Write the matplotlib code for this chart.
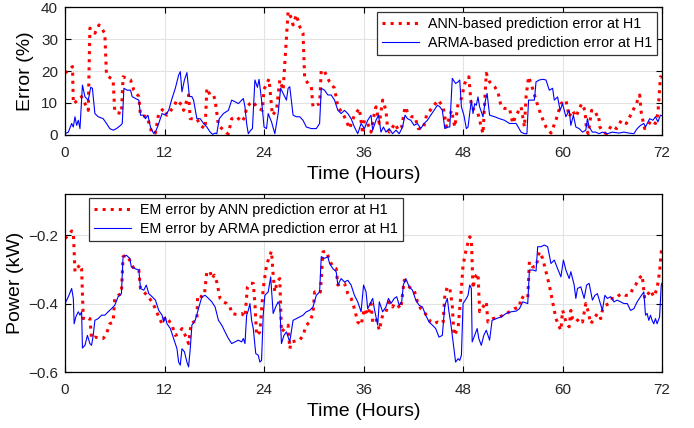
import numpy as np
import matplotlib.pyplot as plt

# top panel: prediction error (%)
ann_err_t = [0, 0.9, 1.0, 1.8, 2.0, 2.8, 3.0, 3.6, 4.1, 4.8, 5.0, 5.8, 6.0, 6.8, 7.0, 7.9, 8.3, 8.9, 9.1, 9.9,
             10.5, 10.9, 11.3, 11.9, 12.3, 13.1, 13.5, 14.1, 14.3, 14.9, 15.1, 15.9, 16.3, 16.9, 17.1, 17.5, 17.9, 18.1, 18.5, 19.5,
             19.7, 20.1, 20.7, 21.3, 21.7, 21.9, 22.3, 22.7, 23.1, 23.8, 24.0, 24.6, 25.0, 25.5, 25.9, 26.3, 26.9, 27.3, 27.5, 27.9,
             28.3, 28.7, 28.9, 29.3, 29.7, 29.9, 30.7, 30.9, 31.3, 31.9, 32.5, 32.9, 33.5, 33.9, 34.3, 34.9, 35.5, 35.9, 36.1, 36.5,
             36.9, 37.3, 37.5, 37.9, 38.3, 38.7, 38.9, 39.1, 39.8, 40.2, 40.6, 41.0, 41.4, 41.8, 42.2, 42.6, 43.2, 43.6, 44.2, 45.0,
             45.6, 46.0, 46.6, 47.0, 47.4, 47.8, 48.2, 48.7, 49.0, 49.4, 49.8, 50.4, 50.8, 51.2, 51.8, 52.2, 52.6, 53.0, 53.6, 54.0,
             54.4, 55.0, 55.4, 55.6, 55.9, 56.2, 56.8, 57.4, 58.0, 58.6, 59.2, 59.8, 60.4, 60.8, 61.2, 61.6, 62.3, 62.7, 62.9, 63.1,
             63.5, 63.9, 64.3, 64.5, 64.9, 65.3, 65.9, 66.5, 67.1, 67.7, 68.3, 68.9, 69.3, 69.5, 69.9, 70.3, 70.7, 71.2, 71.5, 71.8, 72]
ann_err = [19.3, 21.4, 9.8, 11.4, 12.0, 7.7, 33.4, 31.8, 34.4, 31.8, 18.7, 17.2, 7.2, 6.7, 18.2, 17.2, 14.0, 12.0, 6.2, 5.7,
           0.4, 0.6, 6.7, 8.3, 6.2, 8.8, 10.9, 9.3, 7.7, 12.5, 5.1, 5.1, 3.0, 2.0, 14.6, 12.5, 12.5, 10.9, 3.0, 0.6,
           0.4, 5.1, 5.7, 4.1, 5.7, 8.8, 9.8, 10.4, 8.8, 7.7, 14.3, 17.5, 6.2, 7.7, 17.2, 14.0, 38.6, 36.5, 34.4, 37.6,
           33.9, 31.8, 17.7, 16.1, 15.1, 8.8, 9.8, 20.3, 19.8, 16.6, 14.6, 8.8, 6.7, 4.6, 2.0, 6.2, 8.3, 0.4, 4.6, 3.6,
           0.9, 6.7, 8.8, 3.6, 10.9, 7.7, 2.0, 0.9, 3.6, 1.5, 2.5, 8.8, 6.7, 5.7, 5.7, 2.0, 2.0, 6.2, 8.3, 10.9,
           8.8, 2.5, 7.7, 2.5, 9.8, 11.4, 16.1, 18.2, 8.8, 7.7, 6.7, 0.4, 19.3, 16.6, 15.1, 13.5, 8.8, 8.3, 8.3, 3.6,
           6.2, 8.8, 2.5, 12.0, 18.2, 16.1, 10.9, 6.2, 2.5, 0.6, 4.6, 9.8, 10.9, 5.7, 7.7, 5.7, 9.8, 7.7, 1.5, 0.4,
           7.7, 6.2, 6.7, 2.5, 0.9, 0.4, 3.0, 2.0, 4.6, 3.6, 6.7, 9.8, 12.5, 6.7, 2.0, 3.0, 4.6, 3.6, 6.7, 18.2, 18.0]

arma_err_t = [0, 0.4, 0.8, 1.0, 1.2, 1.4, 1.6, 1.8, 2.1, 2.4, 2.6, 2.8, 3.1, 3.3, 3.6, 4.0, 4.6, 5.0, 5.4, 5.8,
              6.2, 6.7, 6.9, 7.1, 7.5, 7.9, 8.1, 8.5, 8.9, 9.1, 9.4, 9.7, 10.0, 10.3, 10.7, 11.0, 11.3, 11.7, 12.1, 12.5,
              12.9, 13.3, 13.7, 13.9, 14.1, 14.4, 14.7, 15.0, 15.3, 15.5, 15.9, 16.3, 16.7, 17.1, 17.5, 17.8, 18.1, 18.3, 18.6, 19.1,
              19.7, 20.1, 20.5, 20.9, 21.3, 21.5, 21.7, 21.9, 22.1, 22.4, 22.6, 22.9, 23.2, 23.4, 23.7, 24.0, 24.3, 24.5, 24.9, 25.3,
              25.7, 26.0, 26.4, 26.7, 26.9, 27.1, 27.5, 27.9, 28.3, 28.7, 29.1, 29.7, 30.3, 30.7, 30.9, 31.3, 31.7, 32.1, 32.5, 32.9,
              33.3, 33.7, 34.1, 34.5, 34.9, 35.3, 35.7, 36.1, 36.5, 36.9, 37.1, 37.5, 37.8, 38.1, 38.4, 38.7, 39.1, 39.5, 39.9, 40.3,
              40.7, 41.0, 41.3, 41.7, 42.1, 42.5, 42.9, 43.3, 43.7, 44.1, 44.5, 44.9, 45.2, 45.5, 45.8, 46.1, 46.4, 46.7, 47.1, 47.4,
              47.6, 47.8, 48.1, 48.4, 48.6, 49.0, 49.2, 49.4, 49.6, 49.8, 50.0, 50.4, 50.7, 50.9, 51.2, 51.8, 52.4, 53.0, 53.6, 54.4,
              55.0, 55.4, 55.7, 55.9, 56.2, 56.6, 56.8, 57.2, 57.6, 58.0, 58.4, 58.8, 59.0, 59.4, 59.7, 60.0, 60.4, 60.8, 61.0, 61.3,
              61.6, 62.0, 62.4, 62.8, 63.0, 63.2, 63.6, 64.0, 64.4, 64.8, 65.4, 66.0, 66.8, 67.4, 68.0, 68.6, 69.0, 69.4, 69.8, 70.0,
              70.5, 70.9, 71.2, 71.5, 71.8, 72]
arma_err = [0.4, 0.9, 3.6, 2.5, 5.7, 3.0, 4.6, 2.0, 15.6, 12.0, 11.4, 10.9, 14.9, 14.6, 6.7, 5.7, 5.1, 3.6, 2.0, 1.5,
            2.0, 3.0, 3.6, 14.6, 14.0, 14.0, 12.0, 11.4, 10.9, 6.2, 6.2, 5.1, 6.2, 2.5, 0.4, 1.5, 3.6, 6.7, 6.2, 7.7,
            11.4, 14.6, 18.7, 19.8, 13.5, 17.2, 19.5, 12.0, 12.0, 10.9, 5.1, 5.1, 3.6, 2.5, 0.9, 0.2, 0.6, 0.4, 5.1, 6.7,
            7.7, 10.9, 10.4, 9.8, 10.9, 11.4, 8.8, 3.6, 0.4, 1.5, 2.0, 17.2, 14.9, 17.4, 10.9, 2.5, 2.0, 6.7, 4.1, 0.4,
            6.7, 14.6, 12.5, 10.9, 14.6, 15.1, 6.2, 5.7, 5.7, 4.6, 2.5, 2.0, 2.0, 3.6, 14.6, 14.0, 12.5, 12.5, 10.9, 7.7,
            6.7, 7.7, 6.7, 5.1, 2.5, 0.4, 3.6, 2.0, 4.6, 6.2, 1.5, 4.6, 6.2, 0.9, 2.5, 0.9, 2.0, 0.4, 1.5, 0.4,
            2.5, 6.2, 5.1, 4.6, 3.0, 3.6, 2.0, 3.6, 4.6, 6.2, 7.7, 9.3, 8.8, 7.7, 2.0, 2.5, 2.5, 17.7, 16.1, 16.6,
            17.2, 8.8, 6.2, 2.0, 2.5, 10.9, 6.7, 9.8, 9.3, 11.9, 8.8, 5.7, 10.9, 13.0, 6.2, 5.7, 5.1, 4.6, 3.6, 3.6,
            0.9, 0.4, 0.4, 10.9, 10.9, 10.9, 16.6, 17.2, 17.4, 17.2, 14.0, 14.6, 10.9, 11.9, 7.7, 9.8, 5.7, 7.7, 3.0, 6.2,
            2.5, 2.0, 0.9, 1.5, 5.1, 2.5, 0.9, 0.9, 0.4, 0.9, 0.4, 0.9, 0.6, 0.9, 0.6, 0.4, 2.0, 3.0, 3.6, 2.5,
            5.1, 4.6, 5.7, 4.1, 6.2, 6.0]

# bottom panel: EM error (kW)
ann_pw_t = [0, 0.4, 0.8, 1.0, 1.2, 1.6, 1.8, 2.0, 2.2, 2.6, 3.0, 3.2, 3.6, 4.0, 4.6, 5.0, 5.4, 5.8, 6.0, 6.4,
            6.8, 7.0, 7.4, 7.8, 8.3, 8.9, 9.1, 9.5, 9.9, 10.5, 10.9, 11.3, 11.7, 12.1, 12.5, 12.9, 13.3, 13.7, 14.1, 14.5,
            14.9, 15.2, 15.5, 15.9, 16.0, 16.5, 16.8, 17.1, 17.5, 17.7, 18.0, 18.3, 18.7, 19.1, 19.5, 19.9, 20.1, 20.7, 21.3, 21.7,
            22.0, 22.3, 22.7, 22.9, 23.1, 23.5, 23.9, 24.3, 24.7, 24.9, 25.1, 25.3, 25.5, 25.7, 25.9, 26.1, 26.5, 26.9, 27.1, 27.3,
            27.7, 28.3, 28.7, 29.1, 29.5, 29.9, 30.1, 30.5, 30.8, 31.1, 31.5, 31.9, 32.3, 32.7, 32.9, 33.3, 33.7, 34.1, 34.5, 34.9,
            35.3, 35.7, 36.1, 36.5, 36.9, 37.1, 37.5, 37.9, 38.3, 38.7, 39.1, 39.5, 39.7, 40.1, 40.5, 40.9, 41.3, 41.7, 42.1, 42.5,
            42.9, 43.3, 43.7, 44.1, 44.5, 44.9, 45.3, 45.6, 45.8, 46.1, 46.4, 46.7, 46.9, 47.4, 47.8, 48.0, 48.4, 48.8, 49.0, 49.2,
            49.4, 49.6, 49.8, 50.0, 50.4, 50.8, 51.0, 51.6, 52.4, 53.0, 53.6, 54.2, 54.8, 55.0, 55.4, 55.8, 56.0, 56.4, 56.8, 57.2,
            57.6, 58.0, 58.4, 58.8, 59.2, 59.6, 59.8, 60.0, 60.2, 60.4, 60.8, 61.0, 61.2, 61.6, 62.0, 62.4, 62.8, 63.0, 63.4, 63.8,
            64.2, 64.6, 64.8, 65.2, 65.6, 66.0, 66.4, 66.8, 67.2, 67.6, 68.0, 68.4, 68.8, 69.2, 69.6, 69.9, 70.2, 70.6, 71.0, 71.4,
            71.7, 71.9, 72]
ann_pw = [-0.210, -0.200, -0.188, -0.190, -0.307, -0.293, -0.286, -0.298, -0.444, -0.439, -0.444, -0.502, -0.498, -0.500, -0.502, -0.488, -0.459, -0.454, -0.385, -0.376,
          -0.371, -0.263, -0.259, -0.273, -0.298, -0.302, -0.356, -0.366, -0.376, -0.395, -0.415, -0.439, -0.459, -0.439, -0.449, -0.463, -0.493, -0.488, -0.473, -0.493,
          -0.517, -0.459, -0.454, -0.449, -0.376, -0.380, -0.376, -0.307, -0.307, -0.327, -0.317, -0.337, -0.385, -0.395, -0.400, -0.410, -0.429, -0.432, -0.429, -0.439,
          -0.351, -0.341, -0.341, -0.400, -0.493, -0.483, -0.356, -0.288, -0.259, -0.247, -0.317, -0.366, -0.346, -0.332, -0.327, -0.483, -0.473, -0.463, -0.532, -0.512,
          -0.510, -0.507, -0.493, -0.463, -0.454, -0.429, -0.366, -0.371, -0.366, -0.249, -0.247, -0.273, -0.293, -0.298, -0.346, -0.341, -0.341, -0.371, -0.385, -0.415,
          -0.454, -0.463, -0.415, -0.434, -0.400, -0.454, -0.444, -0.478, -0.434, -0.424, -0.395, -0.410, -0.400, -0.405, -0.415, -0.332, -0.346, -0.356, -0.361, -0.395,
          -0.415, -0.424, -0.439, -0.454, -0.459, -0.454, -0.459, -0.454, -0.376, -0.351, -0.356, -0.405, -0.493, -0.473, -0.356, -0.288, -0.239, -0.205, -0.210, -0.356,
          -0.327, -0.317, -0.312, -0.424, -0.410, -0.395, -0.454, -0.444, -0.439, -0.432, -0.424, -0.415, -0.410, -0.380, -0.385, -0.385, -0.278, -0.293, -0.293, -0.249,
          -0.268, -0.307, -0.346, -0.395, -0.444, -0.468, -0.478, -0.420, -0.434, -0.454, -0.468, -0.420, -0.444, -0.454, -0.444, -0.454, -0.400, -0.415, -0.459, -0.444,
          -0.429, -0.444, -0.420, -0.405, -0.400, -0.385, -0.385, -0.376, -0.371, -0.376, -0.376, -0.361, -0.346, -0.327, -0.317, -0.385, -0.376, -0.361, -0.380, -0.356,
          -0.307, -0.249, -0.245]

arma_pw_t = [0, 0.4, 0.8, 1.0, 1.1, 1.3, 1.6, 1.8, 2.0, 2.1, 2.4, 2.7, 3.0, 3.2, 3.4, 3.6, 4.0, 4.4, 4.8, 5.2,
             5.6, 6.0, 6.4, 6.8, 7.0, 7.4, 7.8, 8.0, 8.4, 8.9, 9.1, 9.5, 9.8, 10.1, 10.5, 10.9, 11.3, 11.7, 11.9, 12.1,
             12.3, 12.7, 13.1, 13.5, 13.7, 13.9, 14.1, 14.4, 14.7, 14.9, 15.1, 15.3, 15.7, 16.1, 16.5, 16.9, 17.3, 17.7, 18.1, 18.5,
             18.9, 19.3, 19.7, 20.1, 20.5, 20.9, 21.3, 21.5, 21.7, 21.9, 22.1, 22.3, 22.5, 22.7, 23.0, 23.3, 23.5, 23.7, 23.9, 24.1,
             24.5, 24.8, 25.1, 25.4, 25.7, 25.9, 26.1, 26.4, 26.7, 26.9, 27.1, 27.5, 27.9, 28.3, 28.7, 29.1, 29.5, 29.9, 30.3, 30.7,
             30.9, 31.3, 31.7, 31.9, 32.3, 32.7, 32.9, 33.3, 33.7, 34.1, 34.5, 34.9, 35.3, 35.7, 36.0, 36.3, 36.5, 36.8, 37.1, 37.3,
             37.7, 37.9, 38.3, 38.7, 39.0, 39.3, 39.7, 40.0, 40.3, 40.6, 40.8, 41.1, 41.5, 41.9, 42.3, 42.7, 43.1, 43.5, 43.9, 44.3,
             44.7, 45.1, 45.5, 45.8, 46.1, 46.3, 46.5, 46.9, 47.1, 47.4, 47.6, 47.8, 48.0, 48.4, 48.6, 48.8, 49.0, 49.1, 49.4, 49.7,
             49.9, 50.2, 50.5, 50.8, 51.2, 51.5, 52.0, 52.6, 53.2, 53.8, 54.4, 54.8, 55.2, 55.8, 56.0, 56.4, 56.8, 57.0, 57.4, 57.8,
             58.2, 58.6, 59.0, 59.4, 59.8, 60.1, 60.4, 60.8, 61.0, 61.4, 61.6, 61.8, 62.2, 62.6, 62.9, 63.2, 63.6, 63.9, 64.2, 64.5,
             64.8, 65.1, 65.4, 65.8, 66.2, 66.6, 67.0, 67.4, 67.8, 68.2, 68.6, 69.0, 69.4, 69.8, 70.0, 70.2, 70.4, 70.6, 70.8, 71.0,
             71.2, 71.4, 71.7, 71.9, 72]
arma_pw = [-0.400, -0.380, -0.356, -0.385, -0.459, -0.439, -0.424, -0.434, -0.424, -0.530, -0.522, -0.493, -0.517, -0.522, -0.493, -0.449, -0.444, -0.434, -0.434, -0.424,
           -0.415, -0.405, -0.380, -0.371, -0.263, -0.259, -0.268, -0.293, -0.298, -0.302, -0.356, -0.361, -0.346, -0.371, -0.380, -0.390, -0.420, -0.434, -0.454, -0.439,
           -0.459, -0.473, -0.502, -0.532, -0.571, -0.580, -0.532, -0.541, -0.571, -0.585, -0.532, -0.463, -0.449, -0.415, -0.380, -0.376, -0.385, -0.395, -0.410, -0.449,
           -0.463, -0.483, -0.502, -0.517, -0.512, -0.507, -0.512, -0.502, -0.517, -0.434, -0.420, -0.400, -0.449, -0.473, -0.546, -0.551, -0.571, -0.566, -0.434, -0.376,
           -0.366, -0.322, -0.429, -0.410, -0.395, -0.405, -0.517, -0.493, -0.483, -0.498, -0.512, -0.449, -0.444, -0.439, -0.434, -0.424, -0.420, -0.410, -0.376, -0.366,
           -0.263, -0.268, -0.263, -0.283, -0.298, -0.307, -0.346, -0.327, -0.337, -0.332, -0.346, -0.376, -0.395, -0.424, -0.346, -0.366, -0.415, -0.400, -0.385, -0.415,
           -0.463, -0.395, -0.424, -0.410, -0.385, -0.400, -0.385, -0.380, -0.405, -0.395, -0.346, -0.327, -0.351, -0.361, -0.390, -0.405, -0.410, -0.434, -0.454, -0.463,
           -0.473, -0.498, -0.493, -0.405, -0.385, -0.424, -0.454, -0.532, -0.571, -0.561, -0.566, -0.551, -0.400, -0.385, -0.376, -0.346, -0.356, -0.512, -0.493, -0.473,
           -0.502, -0.522, -0.493, -0.478, -0.507, -0.449, -0.444, -0.439, -0.429, -0.424, -0.422, -0.415, -0.395, -0.400, -0.302, -0.302, -0.305, -0.234, -0.234, -0.229,
           -0.234, -0.283, -0.273, -0.298, -0.322, -0.273, -0.302, -0.327, -0.307, -0.346, -0.385, -0.356, -0.351, -0.385, -0.346, -0.341, -0.390, -0.376, -0.371, -0.395,
           -0.420, -0.376, -0.385, -0.380, -0.395, -0.390, -0.395, -0.400, -0.400, -0.420, -0.415, -0.395, -0.380, -0.366, -0.434, -0.429, -0.449, -0.434, -0.449, -0.459,
           -0.444, -0.459, -0.439, -0.346, -0.340]

hour_ticks = [0, 12, 24, 36, 48, 60, 72]

plt.rcParams['font.family'] = ['Liberation Sans', 'DejaVu Sans']
fig = plt.figure(figsize=(6.94, 4.28), dpi=100)
ax1 = fig.add_axes([0.0937, 0.6846, 0.8603, 0.299])
ax2 = fig.add_axes([0.0937, 0.1308, 0.8603, 0.4159])

ax1.plot(ann_err_t, ann_err, color='red', ls=':', lw=2.2, label='ANN-based prediction error at H1')
ax1.plot(arma_err_t, arma_err, color='blue', lw=0.8, label='ARMA-based prediction error at H1')
ax1.set_ylim(0, 40)
ax1.set_yticks([0, 10, 20, 30, 40])
ax1.set_ylabel('Error (%)', fontsize=14, labelpad=5)

ax2.plot(ann_pw_t, ann_pw, color='red', ls=':', lw=2.2, label='EM error by ANN prediction error at H1')
ax2.plot(arma_pw_t, arma_pw, color='blue', lw=0.8, label='EM error by ARMA prediction error at H1')
ax2.set_ylim(-0.6, -0.08)
ax2.set_yticks([-0.6, -0.4, -0.2])
ax2.set_ylabel('Power (kW)', fontsize=14, labelpad=3)

for ax in (ax1, ax2):
    ax.set_xlim(0, 72)
    ax.set_xticks(hour_ticks)
    ax.set_xlabel('Time (Hours)', fontsize=14, labelpad=4)
    ax.grid(True, color='#e3e3e3', lw=0.8)
    ax.set_axisbelow(True)
    ax.tick_params(direction='in', top=True, right=True, labelsize=11, length=4,
                   labelcolor='#262626')
    ax.tick_params(axis='x', pad=8)
    ax.tick_params(axis='y', pad=5)
    for s in ax.spines.values():
        s.set_linewidth(0.9)

leg1 = ax1.legend(loc='upper right', bbox_to_anchor=(0.992, 0.962), borderaxespad=0, fontsize=10.3,
                  fancybox=False, edgecolor='#333333', framealpha=1, handlelength=2.6,
                  borderpad=0.35, labelspacing=0.35, handletextpad=0.6)
leg2 = ax2.legend(loc='upper left', bbox_to_anchor=(0.04, 0.978), borderaxespad=0, fontsize=10.3,
                  fancybox=False, edgecolor='#333333', framealpha=1, handlelength=2.6,
                  borderpad=0.35, labelspacing=0.35, handletextpad=0.6)
for leg in (leg1, leg2):
    leg.get_frame().set_linewidth(0.9)

fig.savefig('out.png', dpi=100)
